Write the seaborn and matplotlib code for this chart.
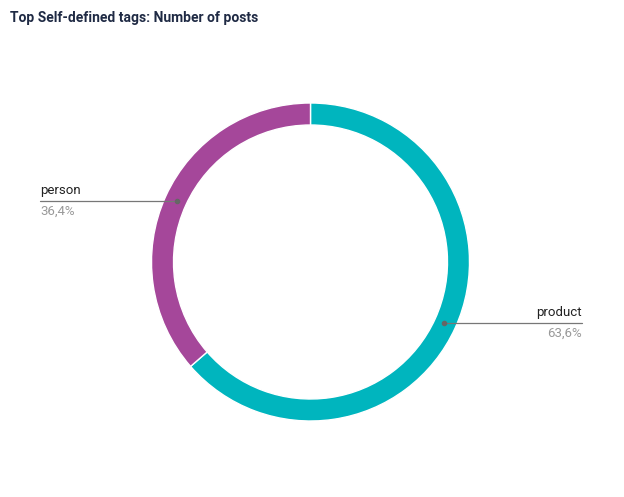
import numpy as np
import seaborn as sns
import matplotlib.pyplot as plt

labels = ["product", "person"]
shares = [63.6, 36.4]
colors = ["#00B5BE", "#A5479A"]
pct_text = ["63,6%", "36,4%"]

sns.set_style("white")
plt.rcParams["font.family"] = ["Roboto", "DejaVu Sans"]

W, H = 624, 497
fig = plt.figure(figsize=(W / 100, H / 100), dpi=100)
ax = fig.add_axes([0, 0, 1, 1])

cx, cy, r = 310.5, H - 262, 159
ring = 22
wedges, _ = ax.pie(shares, colors=colors, startangle=90, counterclock=False,
                   center=(cx, cy), radius=r, frame=True,
                   wedgeprops=dict(width=ring, edgecolor="white", linewidth=1))
ax.set_xlim(0, W)
ax.set_ylim(0, H)
ax.set_aspect("equal")
ax.axis("off")

# leader lines + labels
label_x = {"product": 582, "person": 40}
for w, lab, pt in zip(wedges, labels, pct_text):
    ang = np.deg2rad((w.theta1 + w.theta2) / 2)
    rm = r - ring / 2 - 1
    px, py = cx + rm * np.cos(ang), cy + rm * np.sin(ang)
    lx = label_x[lab]
    ax.plot([px, lx], [py, py], color="#777777", lw=0.9)
    ax.plot(px, py, "o", color="#666666", ms=3)
    ha = "right" if lx > cx else "left"
    ax.text(lx, py + 4, lab, ha=ha, va="bottom", fontsize=9.5, color="#222222")
    ax.text(lx, py - 4, pt, ha=ha, va="top", fontsize=9.5, color="#999999")

fig.text(10 / W, 1 - 18 / H, "Top Self-defined tags: Number of posts", fontsize=10,
         fontweight="bold", color="#1F2A44", ha="left", va="center")

fig.savefig("out.png", dpi=100)
